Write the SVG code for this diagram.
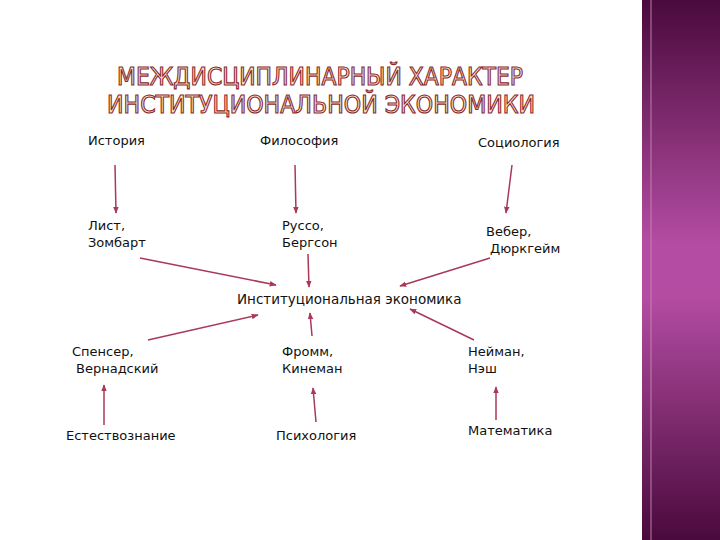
<svg xmlns="http://www.w3.org/2000/svg" width="720" height="540" viewBox="0 0 720 540">
<defs>
<linearGradient id="pg" x1="0" y1="0" x2="0" y2="1">
<stop offset="0" stop-color="#4a0a3c"/><stop offset="0.45" stop-color="#b34ca2"/><stop offset="0.55" stop-color="#b34ca2"/><stop offset="1" stop-color="#4a0a3c"/>
</linearGradient>
<marker id="ah" viewBox="0 0 10 10" refX="9" refY="5" markerWidth="7" markerHeight="7" orient="auto" markerUnits="userSpaceOnUse"><path d="M0,1 L10,5 L0,9 z" fill="#a83a58"/></marker>
<style>
.t{font-family:"DejaVu Sans",sans-serif;font-size:13px;fill:#111}
.h{font-family:"DejaVu Sans Condensed","DejaVu Sans",sans-serif;font-size:25px;fill:#fbe6d4;stroke:#8a2a2a;stroke-width:1.1}
.c line{stroke:#a83a58;stroke-width:1.5;marker-end:url(#ah)}
</style>
</defs>
<rect width="720" height="540" fill="#fff"/>
<rect x="642" y="0" width="78" height="540" fill="url(#pg)"/>
<line x1="651" y1="0" x2="651" y2="540" stroke="#c78ab8" stroke-width="1.5" opacity="0.6"/>
<text class="h" x="117" y="85" textLength="406" lengthAdjust="spacingAndGlyphs">МЕЖДИСЦИПЛИНАРНЫЙ ХАРАКТЕР</text>
<text class="h" x="107" y="113" textLength="428" lengthAdjust="spacingAndGlyphs">ИНСТИТУЦИОНАЛЬНОЙ ЭКОНОМИКИ</text>
<g id="n1"><text class="t" x="88" y="145">История</text></g>
<g id="n2"><text class="t" x="260" y="145">Философия</text></g>
<g id="n3"><text class="t" x="478" y="147">Социология</text></g>
<g id="n4"><text class="t" x="88" y="230">Лист,</text><text class="t" x="88" y="247">Зомбарт</text></g>
<g id="n5"><text class="t" x="282" y="230">Руссо,</text><text class="t" x="282" y="247">Бергсон</text></g>
<g id="n6"><text class="t" x="486" y="236">Вебер,</text><text class="t" x="490" y="253">Дюркгейм</text></g>
<g id="n7"><text class="t" x="237" y="304" style="font-size:13.5px">Институциональная экономика</text></g>
<g id="n8"><text class="t" x="72" y="356">Спенсер,</text><text class="t" x="76" y="373">Вернадский</text></g>
<g id="n9"><text class="t" x="282" y="356">Фромм,</text><text class="t" x="282" y="373">Кинеман</text></g>
<g id="n10"><text class="t" x="468" y="356">Нейман,</text><text class="t" x="468" y="373">Нэш</text></g>
<g id="n11"><text class="t" x="66" y="440">Естествознание</text></g>
<g id="n12"><text class="t" x="276" y="440">Психология</text></g>
<g id="n13"><text class="t" x="468" y="435">Математика</text></g>
<g class="c" id="connectors">
<line x1="115" y1="165" x2="116" y2="213"/>
<line x1="295" y1="165" x2="296" y2="213"/>
<line x1="512" y1="165" x2="506" y2="213"/>
<line x1="140" y1="258" x2="276" y2="285"/>
<line x1="308" y1="254" x2="309" y2="287"/>
<line x1="490" y1="258" x2="400" y2="286"/>
<line x1="148" y1="340" x2="258" y2="315"/>
<line x1="312" y1="336" x2="310" y2="313"/>
<line x1="474" y1="340" x2="410" y2="309"/>
<line x1="104" y1="425" x2="104" y2="385"/>
<line x1="316" y1="422" x2="313" y2="388"/>
<line x1="496" y1="420" x2="496" y2="387"/>
</g>
</svg>
